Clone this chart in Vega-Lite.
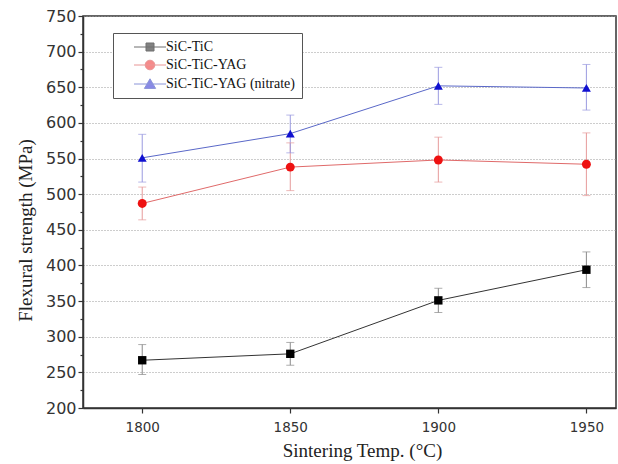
{
  "$schema": "https://vega.github.io/schema/vega-lite/v6.json",
  "width": 533,
  "height": 392,
  "autosize": {"type": "none"},
  "padding": {"left": 83, "top": 16, "right": 2, "bottom": 56},
  "background": "white",
  "config": {
    "view": {"stroke": "#333", "strokeWidth": 1.5},
    "axis": {
      "domainColor": "#333",
      "domainWidth": 1.5,
      "tickColor": "#333",
      "tickWidth": 1.2,
      "labelColor": "#333",
      "labelFont": "DejaVu Sans",
      "titleFont": "Liberation Serif",
      "titleFontWeight": "normal",
      "titleColor": "#222",
      "titleFontSize": 19
    }
  },
  "data": {
    "values": [
      {"series": "SiC-TiC", "temp": 1800, "strength": 267, "lo": 247, "hi": 289},
      {"series": "SiC-TiC", "temp": 1850, "strength": 276, "lo": 260, "hi": 292},
      {"series": "SiC-TiC", "temp": 1900, "strength": 351, "lo": 334, "hi": 368},
      {"series": "SiC-TiC", "temp": 1950, "strength": 394, "lo": 369, "hi": 419},
      {"series": "SiC-TiC-YAG", "temp": 1800, "strength": 487, "lo": 464, "hi": 510},
      {"series": "SiC-TiC-YAG", "temp": 1850, "strength": 538, "lo": 505, "hi": 572},
      {"series": "SiC-TiC-YAG", "temp": 1900, "strength": 548, "lo": 517, "hi": 580},
      {"series": "SiC-TiC-YAG", "temp": 1950, "strength": 542, "lo": 498, "hi": 586},
      {"series": "SiC-TiC-YAG (nitrate)", "temp": 1800, "strength": 551, "lo": 517, "hi": 584},
      {"series": "SiC-TiC-YAG (nitrate)", "temp": 1850, "strength": 585, "lo": 558, "hi": 611},
      {"series": "SiC-TiC-YAG (nitrate)", "temp": 1900, "strength": 652, "lo": 626, "hi": 678},
      {"series": "SiC-TiC-YAG (nitrate)", "temp": 1950, "strength": 649, "lo": 618, "hi": 682}
    ]
  },
  "resolve": {"axis": {"y": "independent"}},
  "layer": [
    {
      "mark": {"type": "rule", "strokeWidth": 1},
      "encoding": {
        "x": {
          "field": "temp", "type": "quantitative",
          "scale": {"domain": [1780, 1960], "nice": false, "zero": false},
          "axis": {
            "title": "Sintering Temp. (°C)",
            "values": [1800, 1850, 1900, 1950],
            "format": "d",
            "grid": false,
            "tickSize": 5,
            "labelFontSize": 13.5,
            "labelPadding": 7,
            "titleX": 279,
            "titleY": 42,
            "titleBaseline": "middle",
            "titleAlign": "center"
          }
        },
        "y": {
          "field": "lo", "type": "quantitative",
          "scale": {"domain": [200, 750], "nice": false, "zero": false},
          "axis": {
            "orient": "left",
            "title": "Flexural strength (MPa)",
            "values": [200, 250, 300, 350, 400, 450, 500, 550, 600, 650, 700, 750],
            "labelOverlap": false,
            "grid": true,
            "gridColor": "#9a9a9a",
            "gridDash": [1, 2],
            "gridWidth": 1,
            "tickSize": 5,
            "labelFontSize": 16,
            "labelPadding": 2,
            "titleX": -58,
            "titleY": 214,
            "titleBaseline": "middle",
            "titleAlign": "center"
          }
        },
        "y2": {"field": "hi"},
        "color": {
          "field": "series", "type": "nominal",
          "scale": {"range": ["#8a8a8a", "#e69a9a", "#9a9ae0"]},
          "legend": null
        }
      }
    },
    {
      "mark": {"type": "tick", "orient": "horizontal", "size": 8, "thickness": 1},
      "encoding": {
        "x": {"field": "temp", "type": "quantitative"},
        "y": {
          "field": "lo", "type": "quantitative",
          "axis": {
            "orient": "left",
            "title": null,
            "values": [225, 275, 325, 375, 425, 475, 525, 575, 625, 675, 725],
            "labels": false,
            "domain": false,
            "grid": false,
            "tickSize": 3
          }
        },
        "color": {"field": "series", "type": "nominal", "legend": null}
      }
    },
    {
      "mark": {"type": "tick", "orient": "horizontal", "size": 8, "thickness": 1},
      "encoding": {
        "x": {"field": "temp", "type": "quantitative"},
        "y": {"field": "hi", "type": "quantitative", "axis": null},
        "color": {"field": "series", "type": "nominal", "legend": null}
      }
    },
    {
      "mark": {"type": "line", "strokeWidth": 1},
      "encoding": {
        "x": {"field": "temp", "type": "quantitative"},
        "y": {"field": "strength", "type": "quantitative", "axis": null},
        "stroke": {
          "field": "series", "type": "nominal",
          "scale": {"domain": ["SiC-TiC", "SiC-TiC-YAG", "SiC-TiC-YAG (nitrate)"], "range": ["#333333", "#e06a6a", "#5a68c8"]},
          "legend": {
            "orient": "none", "legendX": 30, "legendY": 17, "title": null,
            "strokeColor": "#555", "fillColor": "white", "padding": 7,
            "symbolSize": 64, "symbolOffset": 23, "labelOffset": 9,
            "labelFont": "Liberation Serif", "labelFontSize": 14, "labelColor": "#111",
            "rowPadding": 4, "symbolStrokeWidth": 1
          }
        }
      }
    },
    {
      "transform": [{"filter": "datum.series === 'SiC-TiC'"}],
      "mark": {"type": "point", "filled": true, "shape": "square", "size": 70, "opacity": 1},
      "encoding": {
        "x": {"field": "temp", "type": "quantitative"},
        "y": {"field": "strength", "type": "quantitative", "axis": null},
        "fill": {
          "field": "series", "type": "nominal",
          "scale": {"domain": ["SiC-TiC", "SiC-TiC-YAG", "SiC-TiC-YAG (nitrate)"], "range": ["#000000", "#ee1111", "#1010d0"]},
          "legend": {
            "orient": "none", "legendX": 30, "legendY": 17, "title": null,
            "strokeColor": "#555", "fillColor": "white", "padding": 7,
            "symbolSize": 64, "symbolOffset": 23, "labelOffset": 9,
            "labelFont": "Liberation Serif", "labelFontSize": 14, "labelColor": "#111",
            "rowPadding": 4, "symbolStrokeWidth": 1
          }
        }
      }
    },
    {
      "transform": [{"filter": "datum.series === 'SiC-TiC-YAG'"}],
      "mark": {"type": "point", "filled": true, "shape": "circle", "size": 80, "opacity": 1},
      "encoding": {
        "x": {"field": "temp", "type": "quantitative"},
        "y": {"field": "strength", "type": "quantitative", "axis": null},
        "fill": {
          "field": "series", "type": "nominal",
          "legend": {
            "orient": "none", "legendX": 30, "legendY": 17, "title": null,
            "strokeColor": "#555", "fillColor": "white", "padding": 7,
            "symbolSize": 64, "symbolOffset": 23, "labelOffset": 9,
            "labelFont": "Liberation Serif", "labelFontSize": 14, "labelColor": "#111",
            "rowPadding": 4, "symbolStrokeWidth": 1
          }
        }
      }
    },
    {
      "transform": [{"filter": "datum.series === 'SiC-TiC-YAG (nitrate)'"}],
      "mark": {"type": "point", "filled": true, "shape": "triangle-up", "size": 80, "opacity": 1},
      "encoding": {
        "x": {"field": "temp", "type": "quantitative"},
        "y": {"field": "strength", "type": "quantitative", "axis": null},
        "fill": {
          "field": "series", "type": "nominal",
          "legend": {
            "orient": "none", "legendX": 30, "legendY": 17, "title": null,
            "strokeColor": "#555", "fillColor": "white", "padding": 7,
            "symbolSize": 64, "symbolOffset": 23, "labelOffset": 9,
            "labelFont": "Liberation Serif", "labelFontSize": 14, "labelColor": "#111",
            "rowPadding": 4, "symbolStrokeWidth": 1
          }
        }
      }
    },
    {
      "transform": [{"filter": "false"}],
      "mark": {"type": "point", "filled": true},
      "encoding": {
        "shape": {
          "field": "series", "type": "nominal",
          "scale": {
            "domain": ["SiC-TiC", "SiC-TiC-YAG", "SiC-TiC-YAG (nitrate)"],
            "range": [
              "M-4,0H4M-1,-1H1V1H-1Z",
              "M-4,0H4M-1.2,0A1.2,1.2,0,1,0,1.2,0A1.2,1.2,0,1,0,-1.2,0Z",
              "M-4,0H4M0,-1.3L1.4,1.1L-1.4,1.1Z"
            ]
          },
          "legend": {
            "orient": "none", "legendX": 30, "legendY": 17, "title": null,
            "strokeColor": "#555", "fillColor": "white", "padding": 7,
            "symbolSize": 64, "symbolOffset": 23, "labelOffset": 9,
            "labelFont": "Liberation Serif", "labelFontSize": 14, "labelColor": "#111",
            "rowPadding": 4, "symbolStrokeWidth": 1
          }
        },
        "fill": {
          "field": "series", "type": "nominal",
          "legend": {
            "orient": "none", "legendX": 30, "legendY": 17, "title": null,
            "strokeColor": "#555", "fillColor": "white", "padding": 7,
            "symbolSize": 64, "symbolOffset": 23, "labelOffset": 9,
            "labelFont": "Liberation Serif", "labelFontSize": 14, "labelColor": "#111",
            "rowPadding": 4, "symbolStrokeWidth": 1
          }
        },
        "stroke": {
          "field": "series", "type": "nominal",
          "legend": {
            "orient": "none", "legendX": 30, "legendY": 17, "title": null,
            "strokeColor": "#555", "fillColor": "white", "padding": 7,
            "symbolSize": 64, "symbolOffset": 23, "labelOffset": 9,
            "labelFont": "Liberation Serif", "labelFontSize": 14, "labelColor": "#111",
            "rowPadding": 4, "symbolStrokeWidth": 1
          }
        }
      }
    }
  ]
}
